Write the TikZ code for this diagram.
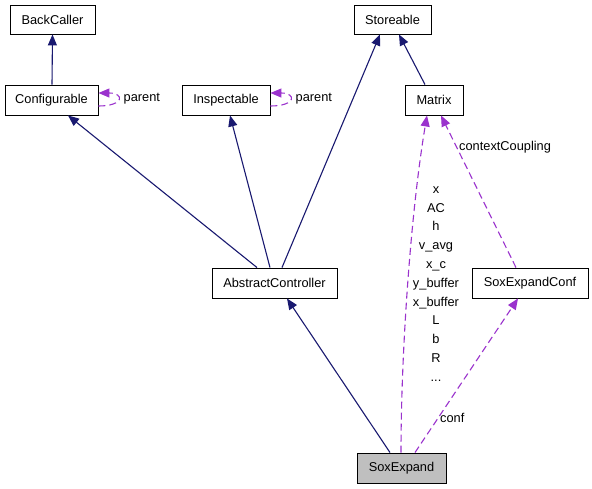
\documentclass[tikz,border=0pt]{standalone}
\usepackage{fontspec}
\setmainfont{Liberation Sans}
\usetikzlibrary{arrows.meta}
\definecolor{inh}{HTML}{191970}
\definecolor{use}{HTML}{9A32CD}
\definecolor{cur}{HTML}{BFBFBF}
\begin{document}
\begin{tikzpicture}[x=1pt,y=-1pt,
  box/.style={draw=black,line width=0.9pt,fill=white,inner sep=0pt,minimum height=30pt,font=\fontsize{12.8}{15}\selectfont},
  lbl/.style={inner sep=0pt,font=\fontsize{12.8}{15}\selectfont},
  inhe/.style={draw=inh,line width=1.1pt,-{Triangle[length=11pt,width=9pt]}},
  usee/.style={draw=use,line width=1.1pt,dash pattern=on 7pt off 4pt,-{Triangle[length=11pt,width=9pt]}}]
\useasboundingbox[fill=white] (0,0) rectangle (592,488);
\node[box,minimum width=85pt,minimum height=29pt] (BC) at (52.5,19.5) {BackCaller};
\node[box,minimum width=93pt] (CF) at (51.5,100) {Configurable};
\node[box,minimum width=88pt] (IN) at (226,100) {Inspectable};
\node[box,minimum width=77pt,minimum height=29pt] (ST) at (392.5,19.5) {Storeable};
\node[box,minimum width=58pt] (MX) at (434,100) {Matrix};
\node[box,minimum width=125pt] (AC) at (274.5,283) {AbstractController};
\node[box,minimum width=116pt] (SC) at (530,283) {SoxExpandConf};
\node[box,minimum width=89pt,fill=cur] (SE) at (401.5,468) {SoxExpand};
% inheritance
\draw[inhe] ([xshift=0.5pt]CF.north) -- (BC.south);
\draw[inhe] ([xshift=-17.5pt]AC.north) -- ([xshift=16.5pt]CF.south);
\draw[inhe] ([xshift=-4.5pt]AC.north) -- ([xshift=4pt]IN.south);
\draw[inhe] ([xshift=7.5pt]AC.north) -- ([xshift=-12.5pt]ST.south);
\draw[inhe] ([xshift=-9pt]MX.north) -- ([xshift=6.5pt]ST.south);
\draw[inhe] ([xshift=-11.5pt]SE.north) -- ([xshift=12.5pt]AC.south);
% self loops
\draw[usee] ([yshift=-6pt]CF.east) .. controls +(26pt,0) and +(26pt,0) .. ([yshift=7pt]CF.east);
\node[lbl,anchor=west] (CFp) at ([xshift=25pt,yshift=1pt]CF.east) {parent};
\draw[usee] ([yshift=-6pt]IN.east) .. controls +(26pt,0) and +(26pt,0) .. ([yshift=7pt]IN.east);
\node[lbl,anchor=west] (INp) at ([xshift=25pt,yshift=1pt]IN.east) {parent};
% usage
\coordinate (c1) at (401,350);
\coordinate (c2) at (411,210);
\draw[usee] ([xshift=-0.5pt]SE.north) .. controls (c1) and (c2) .. ([xshift=-7pt]MX.south);
\node[lbl,align=center,font=\fontsize{12.8}{18.8}\selectfont] (vars) at (436,284) {x\\AC\\h\\v\_avg\\x\_c\\y\_buffer\\x\_buffer\\L\\b\\R\\...};
\draw[usee] ([xshift=-14pt]SC.north) -- ([xshift=7pt]MX.south);
\node[lbl,anchor=west] (ccl) at (459,147) {contextCoupling};
\draw[usee] ([xshift=13.5pt]SE.north) -- ([xshift=-12pt]SC.south);
\node[lbl,anchor=west] (cfl) at (440,418) {conf};
\end{tikzpicture}
\end{document}
